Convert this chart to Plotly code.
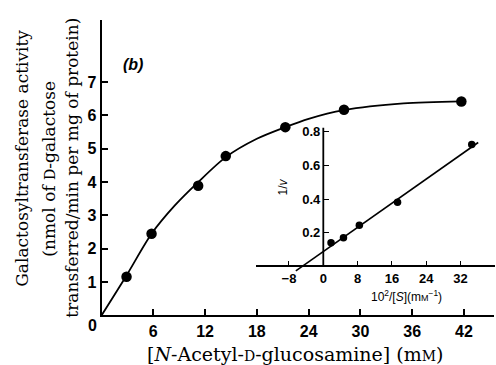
import plotly.graph_objects as go

# ---------------- data ----------------
# main plot: activity vs [N-acetyl-D-glucosamine]
conc_mM = [2.9, 5.8, 11.2, 14.4, 21.3, 28.1, 41.7]
activity = [1.16, 2.45, 3.89, 4.78, 5.65, 6.17, 6.42]
# fitted saturation curve
curve_x = [0, 2.9, 5.8, 8.5, 11.2, 14.4, 18, 21.3, 24, 28.1, 35, 41.7]
curve_y = [0, 1.2, 2.45, 3.3, 4.0, 4.75, 5.3, 5.65, 5.9, 6.16, 6.36, 6.42]

# inset: double reciprocal plot
inv_s = [1.8, 4.7, 8.4, 17.3, 34.6]
inv_v = [0.141, 0.17, 0.245, 0.381, 0.725]
fit_x = [-6.4, 36.1]
fit_y = [-0.026, 0.737]

main_xticks = [6, 12, 18, 24, 30, 36, 42]
main_yticks = [1, 2, 3, 4, 5, 6, 7]
inset_xticks = [-8, 0, 8, 16, 24, 32]
inset_xlabels = ["\u22128", "0", "8", "16", "24", "32"]
inset_yticks = [0.2, 0.4, 0.6, 0.8]
inset_ylabels = ["0.2", "0.4", "0.6", "0.8"]

ytitle_lines = ["Galactosyltransferase activity",
                "(nmol of <span style='font-size:14px'>D</span>-galactose",
                "transferred/min per mg of protein)"]

# ---------------- layout helpers ----------------
W, H = 496, 365
def fx(px):
    return px / W
def fy(py):
    return 1 - py / H

TICK_FONT = dict(family="Liberation Sans", size=16, color="black", weight="bold")
SMALL_TICK_FONT = dict(family="Liberation Sans", size=13, color="black", weight="bold")
SERIF = "DejaVu Serif"

fig = go.Figure()

fig.add_trace(go.Scatter(x=curve_x, y=curve_y, mode="lines",
                         line=dict(color="black", width=1.8, shape="spline", smoothing=0.8),
                         xaxis="x", yaxis="y", showlegend=False, hoverinfo="skip"))
fig.add_trace(go.Scatter(x=conc_mM, y=activity, mode="markers",
                         marker=dict(color="black", size=10.5),
                         xaxis="x", yaxis="y", showlegend=False))

fig.add_trace(go.Scatter(x=fit_x, y=fit_y, mode="lines",
                         line=dict(color="black", width=1.6),
                         xaxis="x2", yaxis="y2", showlegend=False, hoverinfo="skip"))
fig.add_trace(go.Scatter(x=inv_s, y=inv_v, mode="markers",
                         marker=dict(color="black", size=7.5),
                         xaxis="x2", yaxis="y2", showlegend=False))

x0px, x1px = 101.5, 494
y0px, y1px = 315, 17
xmax = (x1px - x0px) / 8.63
ymax = (y0px - y1px) / 33.6

ix0, ix1 = 256, 495
izero_x = 323.3
ixscale = 4.29
iy_zero = 265.6
iyscale = 169.5
iymin, iymax = -0.034, 0.826

fig.update_layout(
    width=W, height=H,
    margin=dict(l=0, r=0, t=0, b=0),
    paper_bgcolor="white", plot_bgcolor="rgba(0,0,0,0)",
    showlegend=False,
    xaxis=dict(domain=[fx(x0px), fx(x1px)], range=[0, xmax],
               tickvals=main_xticks, ticks="inside", ticklen=6, tickwidth=1.5,
               tickcolor="black", showline=True, linecolor="black", linewidth=2,
               showgrid=False, zeroline=False, tickfont=TICK_FONT, anchor="y"),
    yaxis=dict(domain=[fy(y0px), fy(y1px)], range=[0, ymax],
               tickvals=main_yticks, ticks="inside", ticklen=6, tickwidth=1.5,
               tickcolor="black", showline=True, linecolor="black", linewidth=2,
               showgrid=False, zeroline=False, tickfont=TICK_FONT, anchor="x"),
    xaxis2=dict(domain=[fx(ix0), fx(ix1)],
                range=[(ix0 - izero_x) / ixscale, (ix1 - izero_x) / ixscale],
                tickvals=inset_xticks, ticktext=inset_xlabels,
                ticks="inside", ticklen=5, tickwidth=1.3, tickcolor="black",
                showline=True, linecolor="black", linewidth=1.8,
                showgrid=False, zeroline=False, tickfont=SMALL_TICK_FONT,
                anchor="free", position=fy(iy_zero)),
    yaxis2=dict(domain=[fy(iy_zero - iymin * iyscale), fy(iy_zero - iymax * iyscale)],
                range=[iymin, iymax],
                tickvals=inset_yticks, ticktext=inset_ylabels,
                ticks="inside", ticklen=5, tickwidth=1.3, tickcolor="black",
                showline=False, showgrid=False, zeroline=False,
                tickfont=SMALL_TICK_FONT, ticklabelstandoff=3,
                anchor="free", position=fx(izero_x)),
    shapes=[dict(type="line", xref="x2", yref="y2", x0=0, x1=0, y0=0, y1=iymax,
                 line=dict(color="black", width=1.8))],
)

ann = []
# corner zero label
ann.append(dict(text="0", x=fx(92.5), y=fy(325), xref="paper", yref="paper",
                showarrow=False, font=TICK_FONT, xanchor="center", yanchor="middle"))
# panel label
ann.append(dict(text="<b><i>(b)</i></b>", x=fx(133), y=fy(62), xref="paper", yref="paper",
                showarrow=False, font=dict(family="Liberation Sans", size=16, color="black"),
                xanchor="center", yanchor="middle"))
# x title
ann.append(dict(text="[<i>N</i>-Acetyl-<span style='font-size:14px'>D</span>-glucosamine] (m<span style='font-size:14px'>M</span>)",
                x=fx(295), y=fy(354), xref="paper", yref="paper", showarrow=False,
                font=dict(family=SERIF, size=19, color="black"),
                xanchor="center", yanchor="middle"))
# y title, one annotation per line
for txt, cx, cy in zip(ytitle_lines, [22, 49, 72], [157, 167, 166]):
    ann.append(dict(text=txt, x=fx(cx), y=fy(cy), xref="paper", yref="paper",
                    showarrow=False, textangle=-90,
                    font=dict(family=SERIF, size=17, color="black"),
                    xanchor="center", yanchor="middle"))
# inset titles
ann.append(dict(text="1/<i>v</i>", x=fx(283), y=fy(186), xref="paper", yref="paper",
                showarrow=False, textangle=-90,
                font=dict(family="Liberation Sans", size=12, color="black"),
                xanchor="center", yanchor="middle"))
ann.append(dict(text="10<sup>2</sup>/[<i>S</i>](m<span style='font-size:9px'>M</span><sup>\u22121</sup>)",
                x=fx(406.5), y=fy(295), xref="paper", yref="paper", showarrow=False,
                font=dict(family="Liberation Sans", size=12, color="black"),
                xanchor="center", yanchor="middle"))
fig.update_layout(annotations=ann)

fig.write_html("out.html", config={"displayModeBar": False},
               post_script="document.body.style.margin='0';document.body.style.padding='0';")
